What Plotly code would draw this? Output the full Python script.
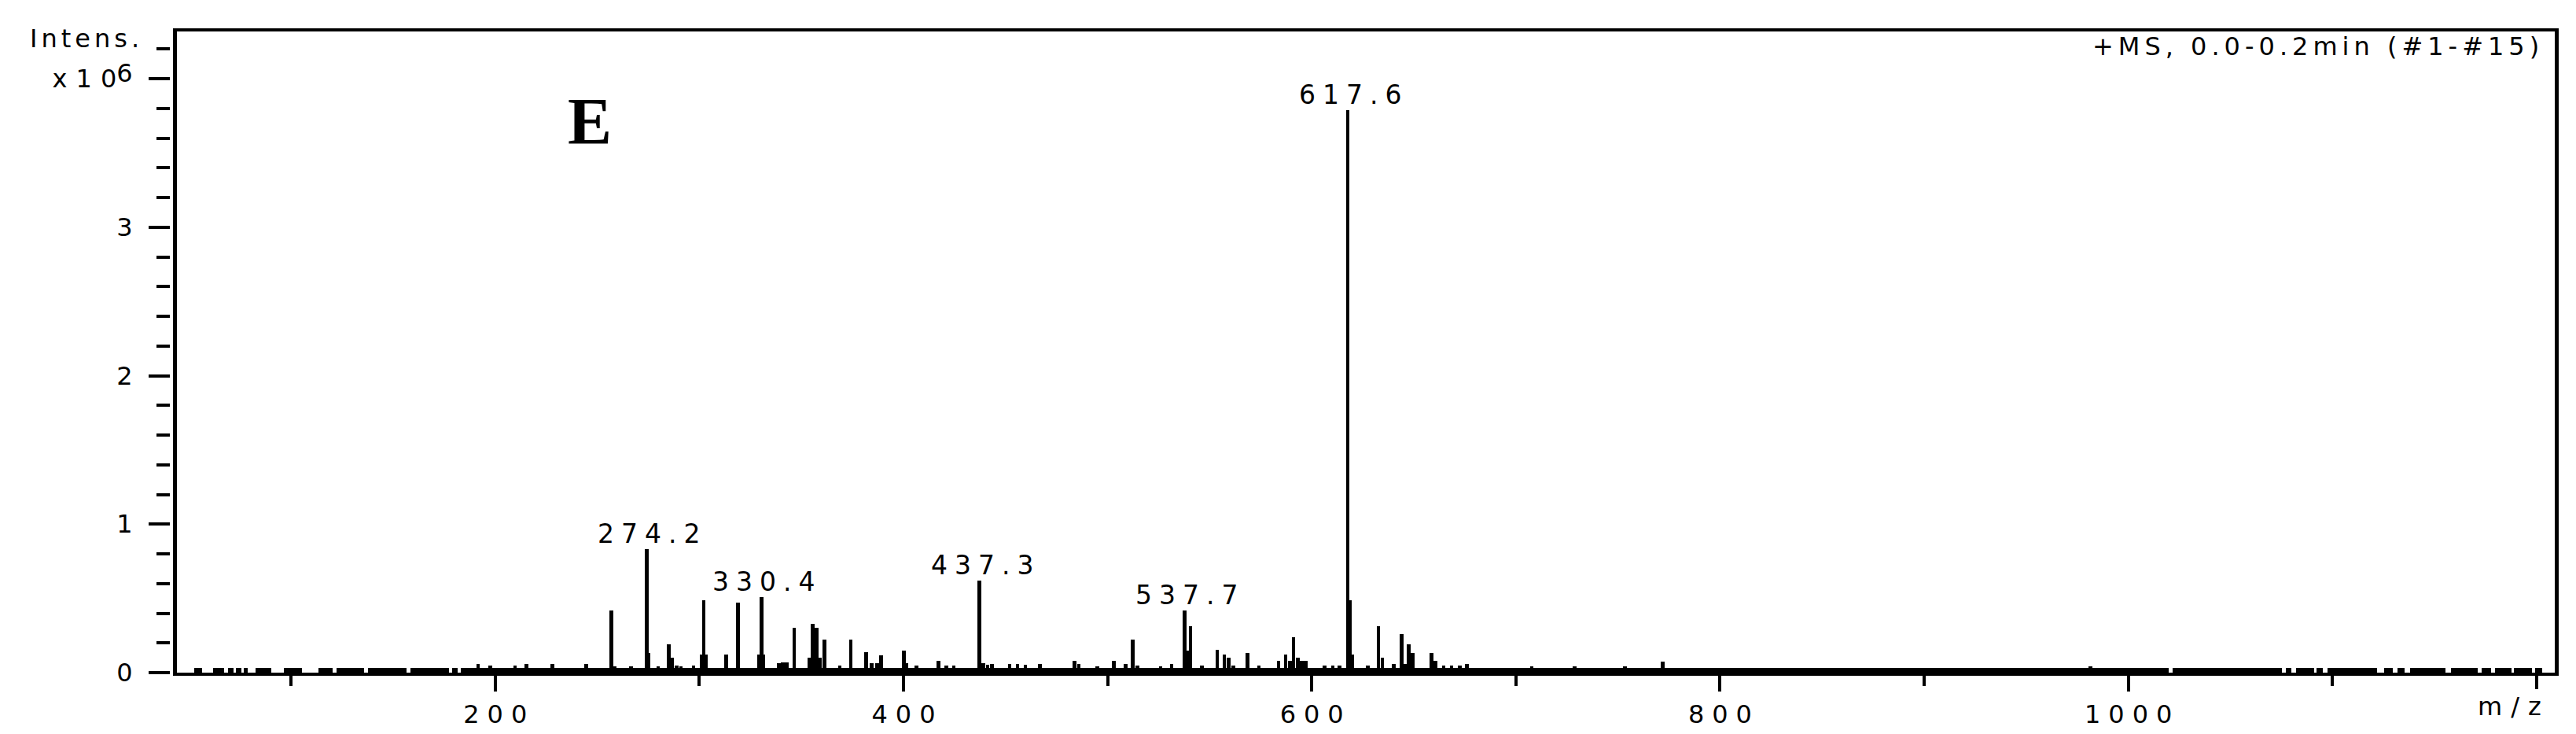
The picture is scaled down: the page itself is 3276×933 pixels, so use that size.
import plotly.graph_objects as go

# ---------- data (m/z, intensity in units of 10^6) ----------

peak_mz = [191.6, 197.5, 209.7, 215.2, 227.9, 244.5, 256.9, 258.4, 266.5,
           274.2, 275.2, 279.8, 285.0, 286.8, 288.9, 291.0, 297.2,
           301.2, 302.2, 303.2, 313.1, 319.0, 329.3, 330.4, 331.4,
           338.9, 340.8, 342.7, 346.5, 353.9, 355.6, 357.4, 358.9, 361.3,
           368.8, 374.2, 381.8, 384.3, 387.2, 389.1, 400.1, 401.6, 406.3,
           417.2, 421.0, 424.6, 437.3, 439.2, 441.2, 443.3, 452.0, 455.9,
           459.7, 466.9, 483.9, 485.9, 495.0, 503.0, 508.8, 512.4, 514.5,
           526.0, 531.4, 537.7, 538.7, 539.7, 540.6, 546.1, 553.7, 557.2,
           559.2, 561.7, 568.6, 574.1, 583.7, 587.2, 589.2, 591.1, 593.1,
           595.0, 597.0, 606.4, 610.3, 613.7, 617.6, 618.6, 620.0, 627.4,
           632.7, 634.6, 640.1, 644.0, 645.6, 647.6, 649.5, 658.7, 660.7,
           664.6, 668.5, 672.5, 676.0, 707.8, 728.7, 753.3, 772.0, 981.5]
peak_int = [0.06, 0.05, 0.05, 0.06, 0.06, 0.06, 0.42, 0.045, 0.04,
            0.83, 0.13, 0.04, 0.19, 0.10, 0.05, 0.04, 0.05,
            0.12, 0.49, 0.12, 0.12, 0.47, 0.12, 0.51, 0.12,
            0.065, 0.07, 0.07, 0.30, 0.10, 0.33, 0.30, 0.10, 0.22,
            0.05, 0.22, 0.14, 0.065, 0.065, 0.115, 0.15, 0.065, 0.05,
            0.08, 0.05, 0.05, 0.62, 0.065, 0.055, 0.06, 0.06, 0.06,
            0.055, 0.06, 0.08, 0.06, 0.04, 0.08, 0.06, 0.225, 0.05,
            0.04, 0.06, 0.42, 0.15, 0.15, 0.31, 0.05, 0.155, 0.12,
            0.10, 0.05, 0.135, 0.05, 0.08, 0.12, 0.08, 0.24, 0.10,
            0.08, 0.08, 0.05, 0.05, 0.05, 3.79, 0.49, 0.12, 0.05,
            0.31, 0.10, 0.06, 0.26, 0.06, 0.19, 0.135, 0.135, 0.08,
            0.05, 0.05, 0.05, 0.06, 0.04, 0.04, 0.04, 0.075, 0.045]

# baseline noise floor: m/z stretches where the noise band is present
noise_start = [52.6, 62.0, 69.3, 73.0, 76.7, 82.8, 96.4, 113.5, 122.1, 137.6,
               158.4, 179.1, 183.0, 1021.6, 1077.0, 1082.0, 1092.0, 1097.4,
               1125.4, 1132.0, 1137.9, 1157.9, 1173.2, 1179.8, 1188.7, 1199.2]
noise_end = [56.6, 67.4, 71.8, 75.5, 78.6, 90.2, 105.4, 120.4, 135.6, 156.5,
             177.4, 181.5, 1019.6, 1075.4, 1080.0, 1091.0, 1095.4, 1122.0,
             1129.6, 1135.4, 1155.4, 1171.2, 1177.8, 1187.8, 1197.8, 1202.8]
noise_level = 0.032

label_mz = [274.2, 330.4, 437.3, 537.7, 617.6]

x_ticks = [200, 400, 600, 800, 1000]
x_ticktext = ["200", "400", "600", "800", "1000"]
x_end_tick = [1200]          # last major tick, its place taken by "m/z"
y_ticks = [0, 1, 2, 3, 4]

X_RANGE = [44.1, 1208.9]
Y_RANGE = [0, 4.318]

FONT = "DejaVu Sans, Liberation Sans, Arial, sans-serif"
BLACK = "#000000"


def spaced(s, px):
    # widen the text: extra space after every glyph but the last
    if len(s) < 2:
        return s
    return f'<span style="letter-spacing:{px}px">{s[:-1]}</span>{s[-1]}'


y_ticktext = ["0", "1", "2", "3",
              spaced("x10", 11) + "<span style='baseline-shift:7px'>6</span>"]

fig = go.Figure()

fig.add_trace(go.Bar(
    x=[(a + b) / 2 for a, b in zip(noise_start, noise_end)],
    y=[noise_level] * len(noise_start),
    width=[b - a for a, b in zip(noise_start, noise_end)],
    marker=dict(color=BLACK, line=dict(width=0)),
    xaxis="x2", yaxis="y2", showlegend=False, hoverinfo="skip",
))

fig.add_trace(go.Bar(
    x=peak_mz, y=peak_int, width=1.8,
    marker=dict(color=BLACK, line=dict(width=0)),
    showlegend=False,
    hovertemplate="m/z %{x}<br>%{y:.2f}x10^6<extra></extra>",
))

# peak labels
lookup = dict(zip(peak_mz, peak_int))
for mz in label_mz:
    fig.add_annotation(x=mz, y=lookup[mz], text=spaced(f"{mz:.1f}", 9),
                       showarrow=False, xanchor="center", yanchor="bottom",
                       xshift=3, yshift=-2, font=dict(size=33))

fig.add_annotation(x=246.3, y=3.71, text="<b>E</b>", showarrow=False,
                   font=dict(family="Liberation Serif, Times New Roman, serif", size=84))

fig.add_annotation(xref="paper", yref="paper", x=1, y=1, xanchor="right", yanchor="top",
                   xshift=-18, yshift=2, showarrow=False,
                   text=spaced("+MS, 0.0-0.2min (#1-#15)", 6), font=dict(size=32))

fig.add_annotation(xref="paper", yref="y", x=0, y=4.27, xanchor="right", yanchor="middle",
                   xshift=-37, showarrow=False, text=spaced("Intens.", 5),
                   font=dict(size=32))

fig.add_annotation(xref="paper", yref="paper", x=1, y=0, xanchor="right", yanchor="top",
                   xshift=-15, yshift=-22, showarrow=False, text=spaced("m/z", 11),
                   font=dict(size=32))

W = 3276 - 208 - 35
fig.update_layout(
    width=3276, height=933,
    margin=dict(l=208, r=35, t=32, b=86),
    paper_bgcolor="white", plot_bgcolor="white",
    font=dict(family=FONT, color=BLACK, size=32),
    barmode="overlay", bargap=0,
    showlegend=False,
    xaxis=dict(
        domain=[9 / W, 1], range=X_RANGE,
        showline=True, linewidth=4, linecolor=BLACK, mirror=True,
        showgrid=False, zeroline=False,
        tickmode="array", tickvals=x_ticks,
        ticktext=[spaced(t, 10) for t in x_ticktext],
        ticks="outside", ticklen=20, tickwidth=4, tickcolor=BLACK,
        ticklabelstandoff=2,
        tickfont=dict(size=32),
        minor=dict(dtick=100, tick0=0, ticks="outside", ticklen=13,
                   tickwidth=4, tickcolor=BLACK),
    ),
    xaxis2=dict(
        overlaying="x", anchor="y", side="bottom", range=X_RANGE,
        showline=False, showgrid=False, zeroline=False,
        tickmode="array", tickvals=x_end_tick, showticklabels=False,
        ticks="outside", ticklen=20, tickwidth=4, tickcolor=BLACK,
    ),
    yaxis=dict(
        range=Y_RANGE,
        showline=True, linewidth=5, linecolor=BLACK, mirror=True,
        showgrid=False, zeroline=False, ticks="", showticklabels=False,
    ),
    yaxis2=dict(
        range=Y_RANGE, overlaying="y", anchor="free", position=0, side="left",
        showline=False, showgrid=False, zeroline=False,
        tickmode="array", tickvals=y_ticks, ticktext=y_ticktext,
        ticks="outside", ticklen=27, tickwidth=4, tickcolor=BLACK,
        ticklabelstandoff=14, tickfont=dict(size=32),
        minor=dict(dtick=0.2, tick0=0, ticks="outside", ticklen=17,
                   tickwidth=4, tickcolor=BLACK),
    ),
)

fig.write_html("out.html")
